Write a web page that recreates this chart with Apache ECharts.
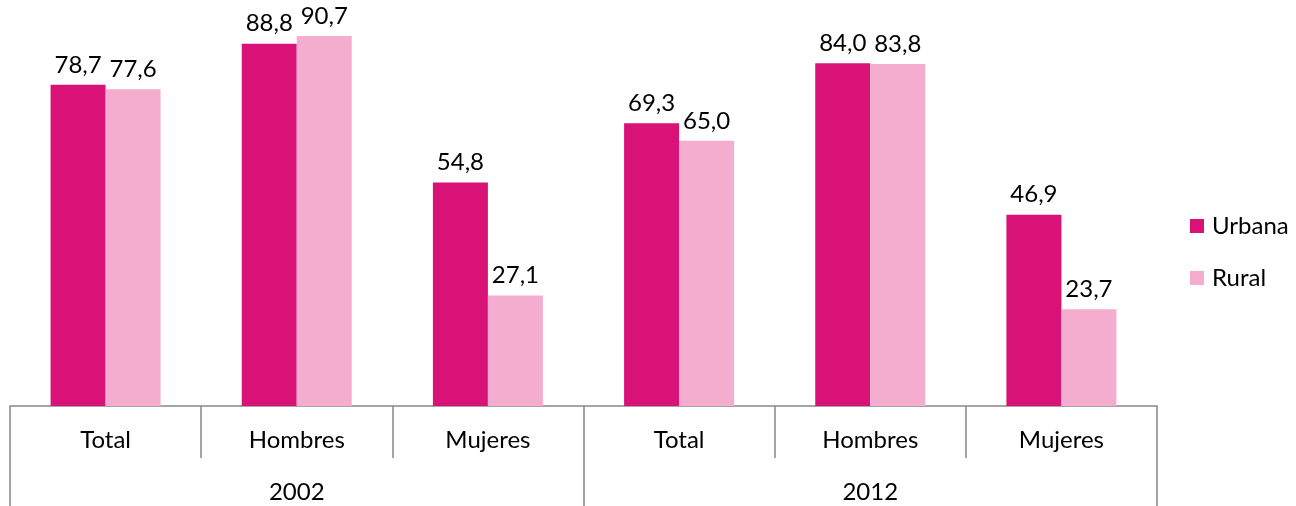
<!DOCTYPE html>
<html>
<head>
<meta charset="utf-8">
<script src="https://cdn.jsdelivr.net/npm/echarts@6/dist/echarts.min.js"></script>
<style>
  html, body { margin: 0; padding: 0; background: #fff; }
  #chart { width: 1296px; height: 506px; }
</style>
</head>
<body>
<div id="chart"></div>
<script>
// categorías y valores
const groups = ['Total', 'Hombres', 'Mujeres', 'Total', 'Hombres', 'Mujeres'];
const years = ['2002', '2012'];
const urbana = [78.7, 88.8, 54.8, 69.3, 84.0, 46.9];
const rural = [77.6, 90.7, 27.1, 65.0, 83.8, 23.7];

const FONT = 'Lato';
const chart = echarts.init(document.getElementById('chart'));

const fmt = p => p.value.toFixed(1).replace('.', ',');
const lbl = {
  show: true,
  position: 'top',
  distance: 8,
  color: '#000',
  fontFamily: FONT,
  fontSize: 24,
  formatter: fmt
};

chart.setOption({
  animation: false,
  textStyle: { fontFamily: FONT },
  grid: { left: 10, right: 139, top: 0, bottom: 100 },
  legend: {
    orient: 'vertical',
    left: 1190,
    top: 214,
    padding: 0,
    itemWidth: 14,
    itemHeight: 14,
    itemGap: 28,
    icon: 'rect',
    textStyle: { fontSize: 24, color: '#000', fontFamily: FONT, padding: [0, 0, 0, 3] },
    data: ['Urbana', 'Rural']
  },
  xAxis: [
    {
      type: 'category',
      data: groups,
      axisLine: { show: true, lineStyle: { color: '#888', width: 1.5 } },
      axisTick: { show: true, length: 52, lineStyle: { color: '#888', width: 1.5 } },
      axisLabel: { margin: 22, fontSize: 24, color: '#000', fontFamily: FONT, interval: 0 }
    },
    {
      type: 'category',
      data: years,
      position: 'bottom',
      offset: 52,
      axisLine: { show: false },
      axisTick: { show: true, length: 48, lineStyle: { color: '#888', width: 1.5 } },
      axisLabel: { margin: 22, fontSize: 24, color: '#000', fontFamily: FONT, interval: 0 }
    }
  ],
  yAxis: { type: 'value', min: 0, max: 99.5, show: false },
  series: [
    {
      name: 'Urbana',
      type: 'bar',
      xAxisIndex: 0,
      data: urbana,
      barWidth: 55,
      barGap: '0%',
      itemStyle: { color: '#D81277' },
      label: lbl
    },
    {
      name: 'Rural',
      type: 'bar',
      xAxisIndex: 0,
      data: rural,
      barWidth: 55,
      barGap: '0%',
      itemStyle: { color: '#F5ADCF' },
      label: lbl
    }
  ]
});
</script>
</body>
</html>
